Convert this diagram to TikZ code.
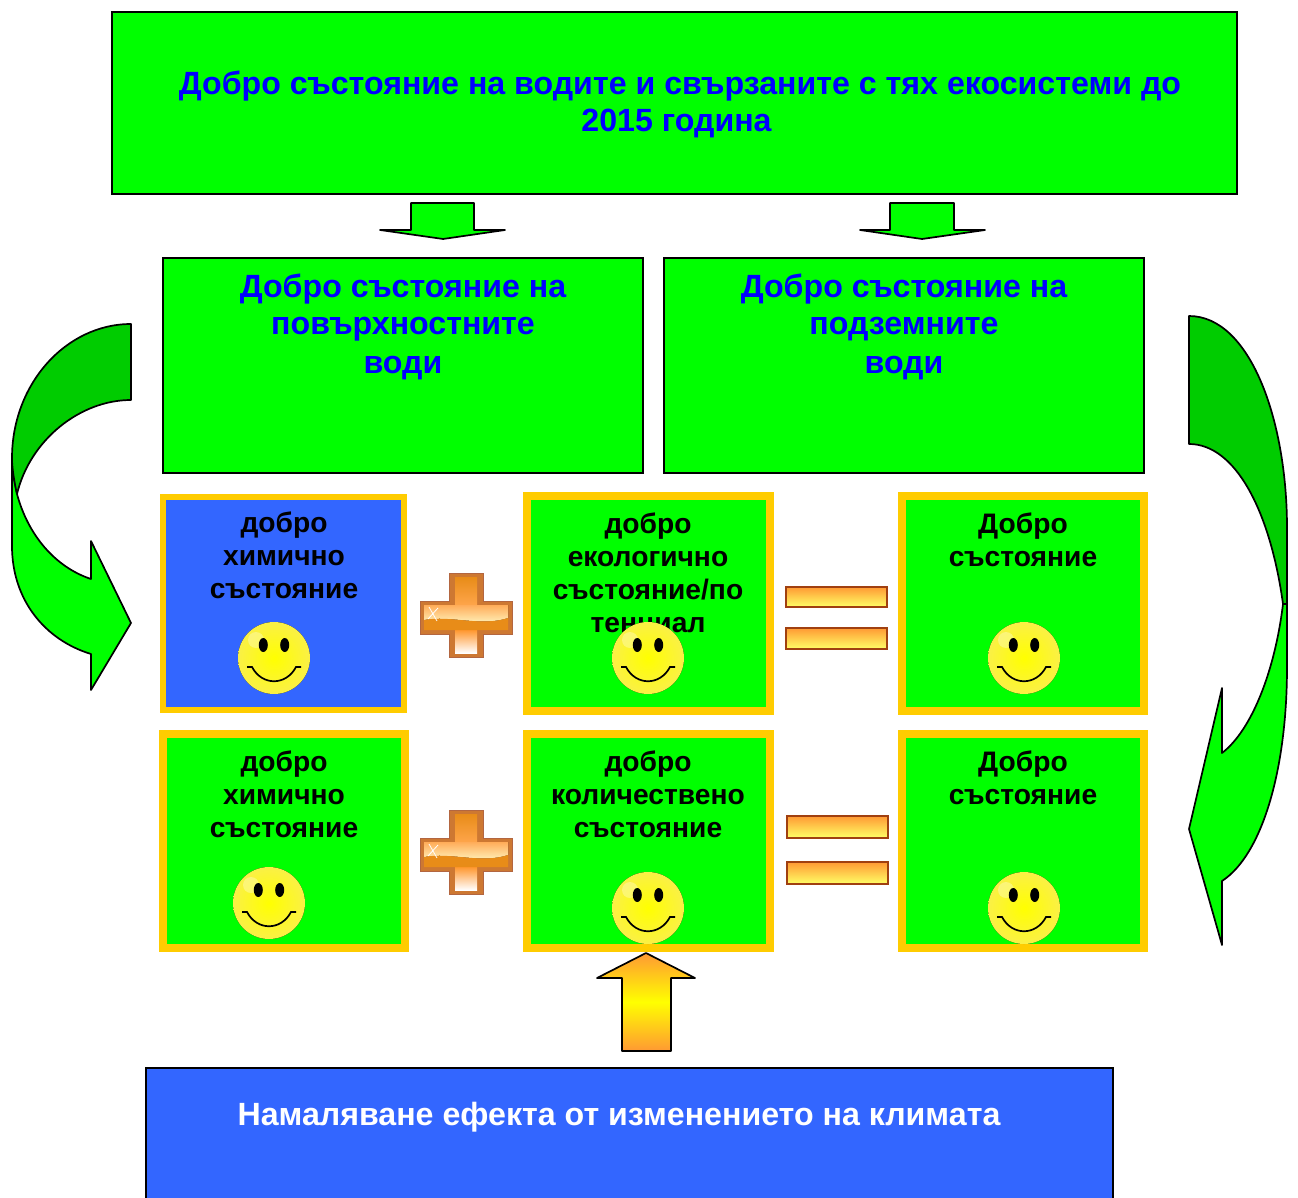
\documentclass[tikz,border=0pt]{standalone}
\usepackage{fontspec}
\setmainfont{Liberation Sans}
\usetikzlibrary{positioning, calc}
\definecolor{boxgreen}{RGB}{0,255,0}
\definecolor{darkgreen}{RGB}{0,204,0}
\definecolor{boxblue}{RGB}{51,102,255}
\definecolor{frameyellow}{RGB}{255,204,0}
\definecolor{barbrown}{RGB}{160,64,16}
\definecolor{barorange}{RGB}{255,153,51}
\definecolor{baryellow}{RGB}{255,255,102}
\definecolor{plusorange}{RGB}{232,140,24}
\definecolor{plusedge}{RGB}{205,120,50}
\definecolor{smileyrim}{RGB}{250,240,70}
\tikzset{
	bigbox/.style={draw=black, line width=1.7pt, fill=boxgreen, rectangle, inner sep=0pt, anchor=north west},
	framebox/.style={draw=frameyellow, line width=#1, fill=boxgreen, rectangle, inner sep=0pt, anchor=north west},
	bigtext/.style={text=blue, font=\fontsize{32.15}{36.5}\selectfont\bfseries, align=center, inner sep=0pt, anchor=north},
	smalltext/.style={text=black, font=\fontsize{28.2}{32.8}\selectfont\bfseries, align=center, inner sep=0pt, anchor=north},
	outline/.style={draw=black, line width=1.7pt, line join=round},
	eqbar/.style={draw=barbrown, line width=1.7pt, top color=barorange, bottom color=baryellow, rectangle, inner sep=0pt, anchor=north west},
	smiley/.pic={
		\fill[inner color=yellow, outer color=smileyrim] (0,0) circle (36);
		\fill[white, opacity=.3] (-18,-18) circle (8);
		\fill[black] (-10.7,-13) ellipse (4.5 and 7);
		\fill[black] (10.7,-13) ellipse (4.5 and 7);
		\draw[black, line width=1.7pt] (-27,9) -- (-22,9) .. controls (-12,28) and (12,28) .. (22,9) -- (27,9);
	},
	plussign/.pic={
		\path[draw=barbrown!80!white, line width=1pt, fill=plusedge] (-17,-42) -- (17,-42) -- (17,-14) -- (46,-14) -- (46,19) -- (17,19) -- (17,42) -- (-17,42) -- (-17,19) -- (-46,19) -- (-46,-14) -- (-17,-14) -- cycle;
		\fill[top color=plusorange, bottom color=orange!70!white] (-11,-38) -- (11,-38) -- (11,-9) -- (-11,-9) -- cycle;
		\fill[top color=orange!85!white, bottom color=white] (-11,14) -- (11,14) -- (11,38) -- (-11,38) -- cycle;
		\fill[top color=orange!65!white, bottom color=yellow!20!white] (-42,-10) -- (42,-10) -- (42,3) .. controls (15,12) and (-15,0) .. (-42,5) -- cycle;
		\fill[plusorange] (-42,5) .. controls (-15,0) and (15,12) .. (42,3) -- (42,15) -- (-42,15) -- cycle;
		\draw[white, line width=.8pt] (-37,-8) -- (-29,6) (-38,4) -- (-28,-7);
	}
}
\begin{document}
\begin{tikzpicture}[x=1pt, y=-1pt]
	\useasboundingbox (0,0) rectangle (1298,1198);
	% Top
	\node[bigbox, minimum width=1125pt, minimum height=182pt] (goal) at (111.2,11.2) {};
	\node[bigtext] (goaltext) at (680,71) {Добро състояние на водите и свързаните с тях екосистеми до\\2015 година\hspace*{7pt}};
	\node[bigbox, minimum width=480pt, minimum height=215pt] (surface) at (162.2,257.2) {};
	\node[bigbox, minimum width=480pt, minimum height=215pt] (ground) at (663.2,257.2) {};
	\node[bigtext] (surfacetext) at (403,274) {Добро състояние на\\повърхностните\\[2.5pt]води};
	\node[bigtext] (groundtext) at (904,274) {Добро състояние на\\подземните\\[2.5pt]води};
	% Down arrows
	\draw[outline, fill=boxgreen] (411,203) -- (474,203) -- (474,230) -- (505,230) -- (443,239) -- (380,230) -- (411,230) -- cycle;
	\draw[outline, fill=boxgreen] (890,203) -- (954,203) -- (954,230) -- (985,230) -- (922,239) -- (860,230) -- (890,230) -- cycle;
	% Left bent arrow
	\draw[outline, fill=boxgreen] (17,494) .. controls (15,485) and (12,470) .. (12,458) -- (12,546) .. controls (12,600) and (45,640) .. (91,654) -- (91,690) -- (131,623) -- (91,541) -- (91,579) .. controls (55,567) and (28,535) .. (17,494) -- cycle;
	\draw[outline, fill=darkgreen] (131,324) .. controls (66,324) and (12,384) .. (12,458) .. controls (12,470) and (15,485) .. (17,494) .. controls (30,440) and (80,400) .. (131,400) -- cycle;
	% Right bent arrow
	\draw[outline, fill=boxgreen] (1283,604) .. controls (1275,670) and (1252,730) .. (1222,753) -- (1222,688) -- (1189,829) -- (1222,945) -- (1222,881) .. controls (1262,855) and (1287,770) .. (1287,667) -- (1287,604) -- cycle;
	\draw[outline, fill=darkgreen] (1189,316) .. controls (1250,316) and (1287,420) .. (1287,528) -- (1287,604) -- (1283,604) .. controls (1270,510) and (1235,444) .. (1189,444) -- cycle;
	% Framed boxes
	\node[framebox=6pt, fill=boxblue, minimum width=241pt, minimum height=213pt] (chem) at (160,494) {};
	\node[framebox=8pt, minimum width=243pt, minimum height=215pt] (eco) at (523,492) {};
	\node[framebox=8pt, minimum width=242pt, minimum height=215pt] (stateone) at (898,492) {};
	\node[framebox=8pt, minimum width=242pt, minimum height=214pt] (chemtwo) at (159,730) {};
	\node[framebox=8pt, minimum width=243pt, minimum height=214pt] (quant) at (523,730) {};
	\node[framebox=8pt, minimum width=242pt, minimum height=214pt] (statetwo) at (898,730) {};
	\node[smalltext] (chemtext) at (284,512) {добро\\химично\\състояние};
	\node[smalltext] (ecotext) at (648,513) {добро\\екологично\\състояние/по\\тенциал};
	\node[smalltext] (onetext) at (1023,513) {Добро\\състояние};
	\node[smalltext] (chemtwotext) at (284,751) {добро\\химично\\състояние};
	\node[smalltext] (quanttext) at (648,751) {добро\\количествено\\състояние};
	\node[smalltext] (twotext) at (1023,751) {Добро\\състояние};
	% Smileys
	\pic at (274,658) {smiley};
	\pic at (648,658) {smiley};
	\pic at (1024,658) {smiley};
	\pic at (269,903) {smiley};
	\pic at (648,908) {smiley};
	\pic at (1024,908) {smiley};
	% Signs
	\pic at (466,615) {plussign};
	\pic at (466,852) {plussign};
	\node[eqbar, minimum width=101pt, minimum height=20pt] (barone) at (785,586) {};
	\node[eqbar, minimum width=101pt, minimum height=21pt] (bartwo) at (785,627) {};
	\node[eqbar, minimum width=101pt, minimum height=22pt] (barthree) at (786,815) {};
	\node[eqbar, minimum width=101pt, minimum height=22pt] (barfour) at (786,861) {};
	% Climate
	\draw[outline, top color=barorange, bottom color=barorange, middle color=yellow] (646,953) -- (695,978) -- (671,978) -- (671,1051) -- (622,1051) -- (622,978) -- (597,978) -- cycle;
	\node[bigbox, fill=boxblue, minimum width=967pt, minimum height=150pt] (climate) at (145.2,1067.2) {};
	\node[bigtext, text=white] (climatetext) at (619,1102) {Намаляване ефекта от изменението на климата};
\end{tikzpicture}
\end{document}
